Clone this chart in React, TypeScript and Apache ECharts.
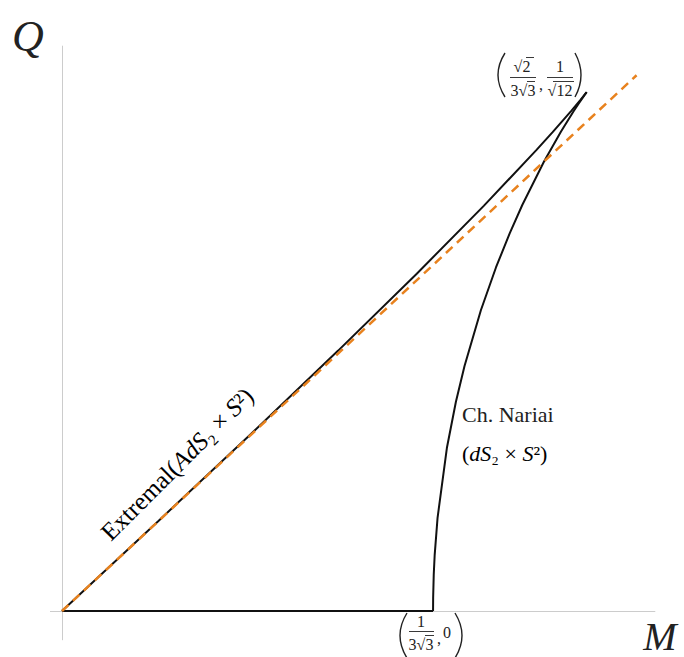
import React, { useEffect, useRef } from "react";
import * as echarts from "echarts";

// Extremal (cold) branch: AdS2 x S2, from origin to the ultracold cusp
const extremalM = [0, 0.04975, 0.098, 0.14325, 0.184, 0.21875, 0.246, 0.254464, 0.26425, 0.268694, 0.270256, 0.271362, 0.272, 0.272166];
const extremalQ = [0, 0.049812, 0.098489, 0.144849, 0.187617, 0.225347, 0.25632, 0.266351, 0.278356, 0.284034, 0.286087, 0.28757, 0.288444, 0.288675];
// Charged Nariai branch: dS2 x S2, from the cusp down to (1/(3√3), 0)
const nariaiM = [0.272166, 0.271824, 0.270986, 0.269632, 0.26775, 0.265328, 0.258816, 0.25, 0.238784, 0.232246, 0.225072, 0.21725, 0.208768, 0.204276, 0.199614, 0.194781, 0.193298, 0.1928, 0.1925, 0.19245];
const nariaiQ = [0.288675, 0.288183, 0.286942, 0.284881, 0.281924, 0.277986, 0.266735, 0.25, 0.225946, 0.210204, 0.191071, 0.167276, 0.136254, 0.116237, 0.090664, 0.05183, 0.031275, 0.020096, 0.007618, 0];
// Q = 0 segment
const baseM = [0, 0.19245];
const baseQ = [0, 0];
// Q = M dashed line
const diagM = [0, 0.298];
const diagQ = [0, 0.298];

const FONT = "'Liberation Serif', 'DejaVu Serif', serif";

function zip(a: number[], b: number[]) {
  return a.map((v, i) => [v, b[i]]);
}

function txt(x: number, y: number, s: string, size: number, extra: any = {}) {
  return {
    type: "text",
    x,
    y,
    silent: true,
    style: {
      text: s,
      fontSize: size,
      fontFamily: FONT,
      fill: "#222",
      textAlign: "center",
      textVerticalAlign: "middle",
      ...extra,
    },
  };
}

function hline(x1: number, x2: number, y: number, w = 0.9) {
  return {
    type: "line",
    silent: true,
    shape: { x1, y1: y, x2, y2: y },
    style: { stroke: "#222", lineWidth: w },
  };
}

function paren(xEnd: number, xMid: number, yTop: number, yBot: number) {
  return {
    type: "bezierCurve",
    silent: true,
    shape: {
      x1: xEnd,
      y1: yTop,
      x2: xEnd,
      y2: yBot,
      cpx1: 2 * xMid - xEnd,
      cpy1: (yTop + yBot) / 2,
    },
    style: { stroke: "#222", lineWidth: 1.4, fill: null },
  };
}

export default function App() {
  const ref = useRef<HTMLDivElement>(null);
  useEffect(() => {
    if (!ref.current) return;
    const chart = echarts.init(ref.current, null, { renderer: "svg" });
    const axisCommon = {
      type: "value" as const,
      axisLine: { show: true, onZero: true, lineStyle: { color: "#cccccc", width: 1 } },
      axisTick: { show: false },
      axisLabel: { show: false },
      splitLine: { show: false },
    };
    const richN = {
      r: { fontFamily: FONT, fontSize: 22, color: "#222" },
      i: { fontFamily: FONT, fontSize: 22, fontStyle: "italic", color: "#222" },
    };
    const richE = {
      r: { fontFamily: FONT, fontSize: 25, color: "#222" },
      i: { fontFamily: FONT, fontSize: 25, fontStyle: "italic", color: "#222" },
    };
    chart.setOption({
      animation: false,
      backgroundColor: "#ffffff",
      grid: { left: 50.4, right: 29.1, top: 46.1, bottom: 17.2, containLabel: false },
      xAxis: { ...axisCommon, min: -0.006, max: 0.3075 },
      yAxis: { ...axisCommon, min: -0.016, max: 0.3142 },
      series: [
        {
          type: "line",
          data: zip(extremalM, extremalQ),
          showSymbol: false,
          lineStyle: { color: "#111", width: 2 },
        },
        {
          type: "line",
          data: zip(nariaiM, nariaiQ),
          showSymbol: false,
          lineStyle: { color: "#111", width: 2 },
        },
        {
          type: "line",
          data: zip(baseM, baseQ),
          showSymbol: false,
          lineStyle: { color: "#111", width: 2 },
        },
        {
          type: "line",
          data: zip(diagM, diagQ),
          showSymbol: false,
          lineStyle: { color: "#e8821e", width: 2.5, type: [9, 6] },
        },
      ],
      graphic: [
        txt(28, 36, "Q", 44, { fontStyle: "italic" }),
        txt(660, 636, "M", 40, { fontStyle: "italic" }),
        // top cusp label
        paren(505, 498, 53, 97),
        txt(522, 66, "√2", 16),
        hline(526, 534, 57.5),
        hline(510, 536, 77.5),
        txt(523, 90, "3√3", 16),
        hline(527, 535, 81.5),
        txt(541, 84, ",", 16),
        txt(560, 66, "1", 16),
        hline(547, 573, 77.5),
        txt(560, 90, "√12", 16),
        hline(553, 574, 81.5),
        paren(575, 581, 53, 97),
        // bottom Nariai label
        paren(407, 400, 613, 658),
        txt(421, 621, "1", 16),
        hline(409, 434, 631.5),
        txt(421, 644, "3√3", 16),
        hline(425, 434, 635.5),
        txt(439, 638, ",", 16),
        txt(447, 632, "0", 16),
        paren(455, 462, 613, 658),
        // curve names
        txt(462, 414, "Ch. Nariai", 22, { textAlign: "left" }),
        {
          type: "text",
          x: 462,
          y: 453,
          silent: true,
          style: {
            text: "{r|(}{i|dS}{r|₂ × }{i|S}{r|²)}",
            rich: richN,
            textAlign: "left",
            textVerticalAlign: "middle",
          },
        },
        {
          type: "text",
          x: 177,
          y: 464,
          rotation: Math.PI / 4,
          silent: true,
          style: {
            text: "{r|Extremal(}{i|AdS}{r|₂ × }{i|S}{r|²)}",
            rich: richE,
            textAlign: "center",
            textVerticalAlign: "middle",
          },
        },
      ],
    });
    return () => chart.dispose();
  }, []);
  return (
    <div
      ref={ref}
      style={{ position: "fixed", left: 0, top: 0, width: 684, height: 657, background: "#fff" }}
    />
  );
}
